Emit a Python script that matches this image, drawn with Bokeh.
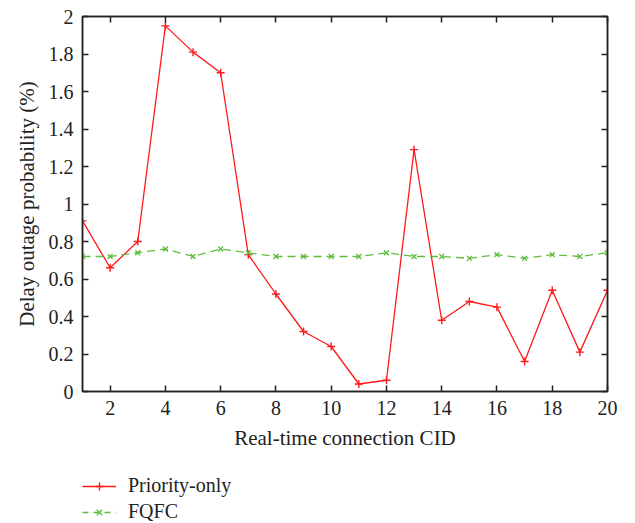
from bokeh.plotting import figure
from bokeh.models import LinearAxis, Legend, LegendItem, FixedTicker, Range1d
from bokeh.layouts import column
from bokeh.embed import file_html
from bokeh.resources import INLINE

cid = list(range(1, 21))
priority_only = [0.91, 0.66, 0.80, 1.95, 1.81, 1.70, 0.73, 0.52, 0.32, 0.24,
                 0.04, 0.06, 1.29, 0.38, 0.48, 0.45, 0.16, 0.54, 0.21, 0.54]
fqfc = [0.72, 0.72, 0.74, 0.76, 0.72, 0.76, 0.74, 0.72, 0.72, 0.72,
        0.72, 0.74, 0.72, 0.72, 0.71, 0.73, 0.71, 0.73, 0.72, 0.74]
x_ticks = [2, 4, 6, 8, 10, 12, 14, 16, 18, 20]
y_ticks = [0, 0.2, 0.4, 0.6, 0.8, 1, 1.2, 1.4, 1.6, 1.8, 2]
y_tick_labels = ["0", "0.2", "0.4", "0.6", "0.8", "1", "1.2", "1.4", "1.6", "1.8", "2"]
series_names = ["Priority-only", "FQFC"]

FONT = "Liberation Serif"
RED = "#ff1a1a"
GREEN = "#5fbd3c"
INK = "#222222"

p = figure(width=635, height=463, output_backend="svg", toolbar_location=None,
           x_range=Range1d(1, 20), y_range=Range1d(0, 2),
           min_border_left=82, min_border_right=28, min_border_top=16, min_border_bottom=72)
p.grid.visible = False
p.outline_line_color = INK
p.outline_line_width = 1.5
p.background_fill_color = "white"
p.border_fill_color = "white"

p.line(cid, priority_only, line_color=RED, line_width=1.3)
p.scatter(cid, priority_only, marker="cross", size=8, line_color=RED, line_width=1.4)
p.line(cid, fqfc, line_color=GREEN, line_width=1.3, line_dash="8 5")
p.scatter(cid, fqfc, marker="x", size=7, line_color=GREEN, line_width=1.3)

overrides = {t: l for t, l in zip(y_ticks, y_tick_labels)}

for ax in (p.xaxis[0], p.yaxis[0]):
    ax.axis_line_color = INK
    ax.axis_line_width = 1.5
    ax.major_tick_in = 6
    ax.major_tick_out = 0
    ax.minor_tick_line_color = None
    ax.major_tick_line_color = INK
    ax.major_tick_line_width = 1.5
    ax.major_label_text_font = FONT
    ax.major_label_text_font_size = "20px"
    ax.major_label_text_color = INK
    ax.axis_label_text_font = FONT
    ax.axis_label_text_font_size = "21px"
    ax.axis_label_text_font_style = "normal"
    ax.axis_label_text_color = INK

p.xaxis[0].ticker = FixedTicker(ticks=x_ticks)
p.yaxis[0].ticker = FixedTicker(ticks=y_ticks)
p.yaxis[0].major_label_overrides = overrides
p.xaxis[0].axis_label = "Real-time connection CID"
p.yaxis[0].axis_label = "Delay outage probability (%)"
p.xaxis[0].major_label_standoff = 9
p.yaxis[0].major_label_standoff = 9
p.xaxis[0].axis_label_standoff = 8
p.yaxis[0].axis_label_standoff = 7

top = LinearAxis(ticker=FixedTicker(ticks=x_ticks))
right = LinearAxis(ticker=FixedTicker(ticks=y_ticks))
for ax in (top, right):
    ax.major_label_text_font_size = "0px"
    ax.major_label_standoff = 0
    ax.axis_line_color = INK
    ax.axis_line_width = 1.5
    ax.major_tick_in = 6
    ax.major_tick_out = 0
    ax.minor_tick_line_color = None
    ax.major_tick_line_color = INK
    ax.major_tick_line_width = 1.5
p.add_layout(top, "above")
p.add_layout(right, "right")

# legend strip below the chart (proxy renderers sit outside the visible range)
lg = figure(width=635, height=60, output_backend="svg", toolbar_location=None,
            x_range=Range1d(0, 1), y_range=Range1d(0, 1),
            x_axis_type=None, y_axis_type=None,
            min_border_left=0, min_border_right=0, min_border_top=0, min_border_bottom=0)
lg.grid.visible = False
lg.outline_line_color = None
lg.background_fill_color = "white"
lg.border_fill_color = "white"
k1 = lg.line([-10, -9], [-10, -10], line_color=RED, line_width=1.3)
s1 = lg.scatter([-10], [-10], marker="cross", size=8, line_color=RED, line_width=1.4)
k2 = lg.line([-10, -9], [-10, -10], line_color=GREEN, line_width=1.3, line_dash="6 5")
s2 = lg.scatter([-10], [-10], marker="x", size=7, line_color=GREEN, line_width=1.3)

legend = Legend(items=[LegendItem(label=series_names[0], renderers=[k1, s1]),
                       LegendItem(label=series_names[1], renderers=[k2, s2])],
                location=(0, 0), orientation="vertical")
legend.label_text_font = FONT
legend.label_text_font_size = "20px"
legend.label_text_color = INK
legend.glyph_width = 34
legend.glyph_height = 20
legend.label_height = 20
legend.label_standoff = 12
legend.spacing = 3
legend.padding = 0
legend.margin = 0
legend.border_line_color = None
legend.background_fill_alpha = 0
lg.add_layout(legend, "center")

open("out.html", "w").write(file_html(column(p, lg, spacing=0), INLINE))
